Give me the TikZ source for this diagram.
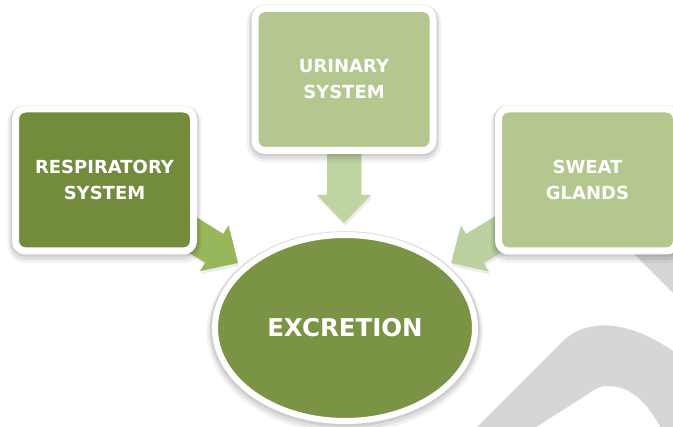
\documentclass[tikz,border=0pt]{standalone}
\usepackage{fontspec}
\setmainfont{DejaVu Sans}
\usetikzlibrary{calc,shadows,backgrounds,shapes.geometric}
\definecolor{darkolive}{HTML}{738B3C}
\definecolor{midolive}{HTML}{7A9345}
\definecolor{paleolive}{HTML}{B3C78F}
\definecolor{arrowmid}{HTML}{97B75A}
\definecolor{arrowpale}{HTML}{C0D4A2}
\definecolor{arrowpale2}{HTML}{BCD1A0}
\definecolor{greydeco}{HTML}{D6D6D6}
\tikzset{
  glow/.style={
    preaction={draw=black, draw opacity=0.05, line width=16pt, transform canvas={yshift=-4pt}},
    preaction={draw=black, draw opacity=0.07, line width=12pt, transform canvas={yshift=-3pt}},
    preaction={draw=black, draw opacity=0.08, line width=9.5pt, transform canvas={yshift=-1pt}}},
  boxbase/.style={rectangle, rounded corners=10pt, draw=white, line width=7pt,
    minimum width=178pt, minimum height=142pt, inner sep=0pt, align=center,
    text=white, font=\bfseries\fontsize{18}{26}\selectfont, glow},
  arrowshadow/.style={drop shadow={opacity=0.15, shadow xshift=1pt, shadow yshift=-3pt}},
}
\newcommand{\blockarr}[3]{%
  \coordinate (hb) at ($(#2)!28pt!(#1.center)$);
  \fill[#3, arrowshadow] ($(hb)!17pt!90:(#2)$) -- ($(hb)!27pt!90:(#2)$) -- (#2)
    -- ($(hb)!27pt!-90:(#2)$) -- ($(hb)!17pt!-90:(#2)$)
    -- ($(#1.center)!17pt!-90:(#2)$) -- ($(#1.center)!17pt!90:(#2)$) -- cycle;}
\begin{document}
\begin{tikzpicture}[x=1pt,y=-1pt]
\path[use as bounding box, clip] (0,0) rectangle (673,427);
\node[boxbase, fill=darkolive] (resp) at (104.5,180) {RESPIRATORY\\SYSTEM};
\node[boxbase, fill=paleolive] (urin) at (344,79.5) {URINARY\\SYSTEM};
\node[boxbase, fill=paleolive] (sweat) at (587.5,180) {SWEAT\\GLANDS};
\node[ellipse, fill=midolive, draw=white, line width=6pt, minimum width=260pt,
  minimum height=186pt, inner sep=0pt, text=white,
  font=\bfseries\fontsize{24.5}{28}\selectfont, glow] (exc) at (345,328) {EXCRETION};
\coordinate (tipL) at (238,263);
\coordinate (tipT) at (344,223);
\coordinate (tipR) at (451,263);
\begin{pgfonlayer}{background}
  \fill[white] (0,0) rectangle (673,427);
  \fill[greydeco] (628,248) -- (673,293) -- (700,293) -- (700,230) -- (640,230) -- cycle;
  \fill[greydeco] (462,442) -- (562,342) .. controls (585,319) and (625,318) .. (673,351)
    -- (700,369) -- (700,445) -- (668,445) -- (662,430)
    .. controls (645,398) and (628,386) .. (608,386)
    .. controls (600,386) and (594,389) .. (588,394) -- (508,445) -- cycle;
  \blockarr{resp}{tipL}{arrowmid}
  \blockarr{urin}{tipT}{arrowpale}
  \blockarr{sweat}{tipR}{arrowpale2}
\end{pgfonlayer}
\end{tikzpicture}
\end{document}
